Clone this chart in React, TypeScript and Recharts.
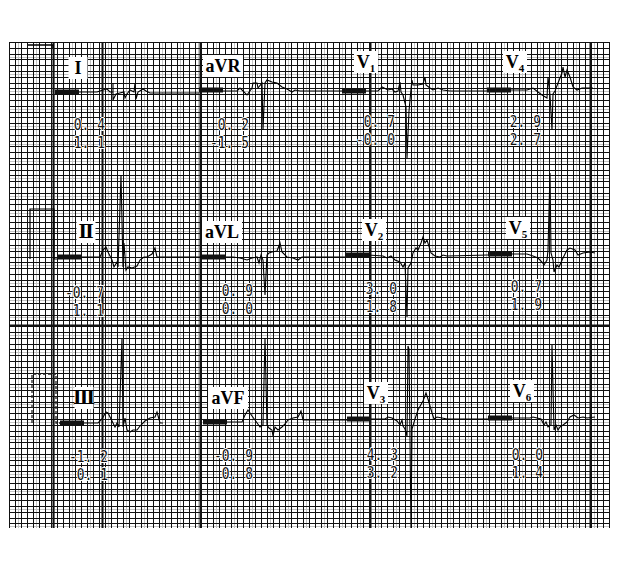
import React from 'react';
import { LineChart, Line, XAxis, YAxis, CartesianGrid, ReferenceDot } from 'recharts';

// each lead: [t, v] -> px after the lead start, px above its baseline
const leadI = [[24,0],[42,0],[48,2],[52,3],[55,0],[58,0],[58,9],[58,-8],[61,-2],[69,0],[70,-6],[72,-2],[75,2],[79,0],[80,9],[81,-7],[83,0],[88,3],[91,1],[95,-1],[144,-1]];
const leadAVR = [[23,-1],[38,-1],[41,2],[48,-5],[53,2],[54,7],[58,7],[59,2],[63,7],[64,-40],[66,7],[68,10],[73,8],[78,7],[83,3],[88,1],[93,-2],[96,0],[101,-1],[143,-1]];
const leadV1 = [[23,0],[36,0],[40,4],[46,1],[50,2],[53,-1],[56,0],[58,9],[59,-1],[61,-4],[64,-16],[65,-67],[67,-20],[69,2],[70,11],[71,6],[76,6],[81,7],[83,14],[84,6],[88,3],[91,1],[96,3],[101,1],[108,0],[145,0]];
const leadV4 = [[23,0],[40,0],[46,2],[51,-2],[55,-5],[60,-8],[61,13],[63,-5],[65,-40],[66,-4],[68,-1],[71,7],[75,17],[76,23],[78,13],[80,20],[83,13],[86,3],[90,0],[95,2],[106,2]];
const leadII = [[25,0],[43,0],[46,7],[49,10],[51,5],[55,-3],[57,-10],[60,-5],[61,-10],[64,82],[66,-10],[67,14],[69,-13],[71,-10],[75,-11],[80,-9],[83,-3],[87,0],[90,0],[95,3],[98,9],[100,0],[145,0]];
const leadAVL = [[23,0],[31,0],[38,-1],[45,-3],[50,-1],[55,0],[57,-6],[59,2],[61,-3],[63,-38],[65,2],[67,4],[70,5],[75,6],[78,14],[80,5],[85,0],[91,-1],[96,-3],[100,0],[143,0]];
const leadV2 = [[23,0],[38,-1],[42,-3],[46,-1],[50,-5],[55,-7],[58,-12],[60,-8],[62,-62],[63,-13],[66,-8],[68,2],[71,7],[73,5],[76,12],[78,18],[80,12],[82,15],[86,2],[90,-1],[95,-2],[98,0],[102,-1],[143,0]];
const leadV5 = [[24,0],[39,0],[45,-2],[50,-4],[54,-8],[56,-11],[59,-6],[60,4],[62,81],[63,1],[65,-6],[66,-18],[69,-11],[71,-13],[75,-4],[79,4],[82,6],[87,4],[90,-1],[95,1],[102,2],[107,1]];
const leadIII = [[23,0],[38,0],[42,4],[46,11],[48,10],[52,2],[55,-4],[57,0],[59,-4],[62,85],[63,-4],[65,5],[67,-7],[70,-9],[73,-7],[77,-7],[80,-3],[85,2],[90,5],[95,6],[97,11],[100,0],[103,0]];
const leadAVF = [[24,0],[39,0],[42,7],[45,12],[49,6],[52,2],[57,-5],[60,-3],[62,84],[64,-3],[66,-6],[69,-8],[70,-14],[72,-5],[75,-8],[79,-5],[82,-2],[85,2],[90,4],[95,5],[98,11],[100,2],[144,2]];
const leadV3 = [[23,0],[38,0],[41,2],[45,1],[50,-2],[53,-6],[55,-1],[56,-7],[58,-10],[60,-17],[61,73],[62,70],[64,-110],[65,-10],[68,0],[71,9],[76,18],[79,26],[81,20],[85,6],[87,0],[90,2],[95,1],[100,0],[141,0]];
const leadV6 = [[24,0],[42,0],[45,1],[49,0],[53,-1],[56,-7],[58,-4],[60,-9],[63,-7],[64,73],[66,-12],[68,-7],[70,-12],[72,-9],[75,-7],[79,-4],[82,1],[86,3],[90,0],[95,1],[99,0],[107,1]];

// 1 mV calibration pulses (row 1 only partly visible)
const calRow1 = [[0,47],[25,47],[25,44]];
const calRow2 = [[0,0],[0,50],[24,50],[24,0],[27,0]];
const calRow3 = [[0,0],[0,49],[24,49],[24,0],[28,0]];

const leadNames = ['I', 'aVR', 'V1', 'V4', 'Ⅱ', 'aVL', 'V2', 'V5', 'Ⅲ', 'aVF', 'V3', 'V6'];
const valueTop = ['0. 4', '0. 2', '0. 7', '2. 9', '-0. 7', '0. 9', '3. 0', '0. 7', '-1. 2', '-0. 9', '4. 3', '0. 0'];
const valueBottom = ['1. 1', '-1. 5', '-0. 0', '2. 7', '1. 1', '0. 0', '1. 8', '1. 9', '0. 1', '0. 8', '3. 2', '1. 4'];

const leads = [leadI, leadAVR, leadV1, leadV4, leadII, leadAVL, leadV2, leadV5, leadIII, leadAVF, leadV3, leadV6];

// layout (px on the page)
const origins = [[55,92],[199,90],[342,91],[487,90],[57,257],[202,257],[345,255],[488,254],[60,423],[203,422],[347,419],[488,418]];
const labelPos = [[78,68],[223,66],[366,62],[515,62],[86,232],[222,232],[374,230],[518,228],[84,398],[228,398],[376,393],[522,391]];
// right edge of the value text
const valueRight = [[105,125],[249,125],[395,122],[541,122],[104,293],[253,291],[397,289],[542,287],[108,457],[253,456],[398,455],[543,455]];

const GX0 = 9, GX1 = 610, GY0 = 42, GY1 = 528;

const px = (v: number) => Math.round(v) + 0.5;
const vLines = Array.from({ length: 101 }, (_, i) => px(GX0 + i * 6)).filter((x) => x <= GX1 + 1);
const vGray = Array.from({ length: 100 }, (_, i) => px(GX0 + i * 6 + 3)).filter((x, i) => i % 3 === 1 && x < GX1);
const hLines = Array.from({ length: 85 }, (_, i) => px(GY0 + i * 5.8)).filter((y) => y <= GY1 + 1);
const hGray = Array.from({ length: 84 }, (_, i) => px(GY0 + i * 5.8 + 2.9)).filter((y, i) => i % 3 === 2 && y < GY1);
const vThick = [53, 102, 200, 370, 590].map(px);
const hThick = [325].map(px);

const toPts = (pts: number[][], o: number[]) => pts.map(([t, v]) => ({ x: o[0] + t, y: o[1] - v }));

const LeadLabel = ({ cx, cy, name }: any) => {
  const isV = name.startsWith('V');
  const w = name.length > 2 ? 40 : isV ? 24 : name.length * 9 + 10;
  return (
    <g>
      <rect x={cx - w / 2} y={cy - 11} width={w} height={22} fill="#fff" />
      <text x={cx} y={cy + 6} textAnchor="middle" fontFamily="Liberation Serif, DejaVu Serif, serif" fontWeight="bold" fontSize={18} fill="#000">
        {isV ? 'V' : name}
        {isV && <tspan fontSize={11} dy={4}>{name.slice(1)}</tspan>}
      </text>
    </g>
  );
};

const ValText = ({ x, y, s }: any) => {
  const len = s.length * 7.8;
  return (
    <text x={x - len} y={y} textLength={len} lengthAdjust="spacingAndGlyphs"
      stroke="#fff" strokeWidth={2} paintOrder="stroke" strokeLinejoin="round">{s}</text>
  );
};

const ValueText = ({ cx, cy, top, bottom }: any) => (
  <g fontFamily="DejaVu Sans Mono, Liberation Mono, monospace" fontSize={15} fill="#111">
    <ValText x={cx} y={cy + 5} s={top} />
    <ValText x={cx} y={cy + 23} s={bottom} />
  </g>
);

export default function App() {
  return (
    <div style={{ position: 'absolute', left: 0, top: 0, width: 617, height: 566, background: '#fff' }}>
      <LineChart width={617} height={566} margin={{ top: GY0, left: GX0, right: 617 - GX1, bottom: 566 - GY1 }}>
        <XAxis type="number" dataKey="x" domain={[GX0, GX1]} allowDataOverflow hide />
        <YAxis type="number" dataKey="y" domain={[GY0, GY1]} reversed allowDataOverflow hide />
        <CartesianGrid horizontalPoints={hGray} verticalPoints={vGray} stroke="#c4c4c4" strokeWidth={1} />
        <CartesianGrid horizontalPoints={hLines} verticalPoints={vLines} stroke="#111" strokeWidth={1} />
        <CartesianGrid horizontalPoints={hThick} verticalPoints={vThick} stroke="#111" strokeWidth={2} />

        <Line data={toPts(calRow1, [28, 92])} dataKey="y" stroke="#000" strokeWidth={1.5} dot={false} isAnimationActive={false} />
        <Line data={toPts(calRow2, [30, 259])} dataKey="y" stroke="#000" strokeWidth={1.2} dot={false} isAnimationActive={false} />
        <Line data={toPts(calRow3, [32, 423])} dataKey="y" stroke="#222" strokeWidth={1.3} strokeDasharray="3 2" dot={false} isAnimationActive={false} />

        {leads.map((lead, i) => (
          <Line key={'tr' + i} data={toPts(lead, origins[i])} dataKey="y" stroke="#000" strokeWidth={1.1} dot={false} isAnimationActive={false} />
        ))}
        {origins.map((o, i) => (
          <Line key={'bar' + i} data={toPts([[0, 0], [24, 0]], o)} dataKey="y" stroke="#111" strokeWidth={5} dot={false} isAnimationActive={false} />
        ))}
        {leadNames.map((n, i) => (
          <ReferenceDot key={'lb' + i} x={labelPos[i][0]} y={labelPos[i][1]} r={0}
            shape={(p: any) => <LeadLabel cx={p.cx} cy={p.cy} name={n} />} />
        ))}
        {valueTop.map((t, i) => (
          <ReferenceDot key={'vl' + i} x={valueRight[i][0]} y={valueRight[i][1]} r={0}
            shape={(p: any) => <ValueText cx={p.cx} cy={p.cy} top={t} bottom={valueBottom[i]} />} />
        ))}
      </LineChart>
    </div>
  );
}
